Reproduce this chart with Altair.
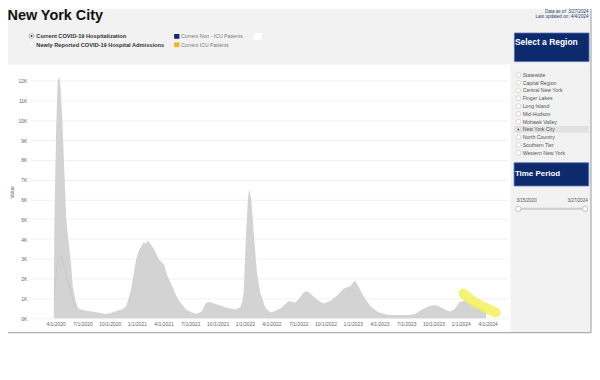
import altair as alt
import pandas as pd

# ---------------- data ----------------
dates = ["2020-03-26","2020-03-28","2020-04-03","2020-04-08","2020-04-14","2020-04-18","2020-04-23",
 "2020-05-07","2020-05-18","2020-05-24","2020-05-29","2020-06-07","2020-06-16","2020-07-01","2020-07-20",
 "2020-08-16","2020-09-19","2020-10-10","2020-10-27","2020-11-13","2020-11-26","2020-12-06","2020-12-12",
 "2020-12-29","2021-01-09","2021-01-20","2021-01-24","2021-01-31","2021-02-04","2021-02-09","2021-02-18",
 "2021-02-28","2021-03-17","2021-04-03","2021-04-14","2021-05-01","2021-05-12","2021-05-23","2021-06-15",
 "2021-07-06","2021-07-23","2021-08-09","2021-08-21","2021-09-01","2021-09-18","2021-10-15","2021-11-08",
 "2021-11-30","2021-12-17","2021-12-24","2021-12-28","2022-01-05","2022-01-12","2022-01-16","2022-01-23",
 "2022-01-31","2022-02-11","2022-02-22","2022-03-11","2022-03-28","2022-04-14","2022-05-06","2022-05-29",
 "2022-06-20","2022-07-01","2022-07-18","2022-07-29","2022-08-10","2022-09-01","2022-09-24","2022-10-16",
 "2022-11-08","2022-11-30","2022-12-23","2023-01-08","2023-01-20","2023-02-06","2023-03-01","2023-03-27",
 "2023-04-30","2023-06-02","2023-07-06","2023-07-29","2023-08-20","2023-09-18","2023-10-05","2023-10-16",
 "2023-11-02","2023-11-24","2023-12-11","2023-12-28","2024-01-14","2024-02-11","2024-03-09","2024-03-27"]
total = [1450,5100,9700,12000,12200,11600,10250,
 5000,3400,2600,1600,900,500,420,370,
 300,220,290,380,450,620,1120,1460,
 2960,3470,3720,3850,3750,3880,3900,3700,
 3470,2960,2710,2130,1600,1200,900,450,
 290,220,370,750,830,750,620,500,
 450,550,900,1300,4300,6150,6520,5980,
 4300,2300,1290,540,290,370,540,870,
 790,950,1290,1370,1260,950,750,870,
 1120,1490,1620,1910,1620,1120,620,320,
 170,170,170,200,420,620,670,620,
 490,340,450,820,900,700,500,350]

icu_dates = ["2020-03-28","2020-04-03","2020-04-08","2020-04-14","2020-04-19","2020-04-23",
 "2020-05-07","2020-05-18","2020-05-29","2020-06-03","2020-06-10"]
icu_values = [1200,2300,2900,3100,3130,3000,2200,1570,950,620,450]

highlight_dates = ["2024-01-10","2024-01-20","2024-02-16","2024-03-21","2024-04-29"]
highlight_values = [1250,1120,820,540,290]

x_tick_dates = [(2020,4),(2020,7),(2020,10),(2021,1),(2021,4),(2021,7),(2021,10),
 (2022,1),(2022,4),(2022,7),(2022,10),(2023,1),(2023,4),(2023,7),(2023,10),(2024,1),(2024,4)]
y_ticks = [0,1000,2000,3000,4000,5000,6000,7000,8000,9000,10000,11000,12000]

regions = ["Statewide","Capital Region","Central New York","Finger Lakes","Long Island",
 "Mid-Hudson","Mohawk Valley","New York City","North Country","Southern Tier","Western New York"]
selected_region = "New York City"
title_text = "New York City"
options = ["Current COVID-19 Hospitalization", "Newly Reported COVID-19 Hospital Admissions"]
legend_items = [("Current Non - ICU Patients", "#17286b"), ("Current ICU Patients", "#f0b323")]
data_as_of = "Data as of: 3/27/2024"
last_updated = "Last updated on: 4/4/2024"
period_start, period_end = "3/15/2020", "3/27/2024"

# ---------------- layout helpers ----------------
FONT = "Liberation Sans"
PL, PT = 22, 57
one = pd.DataFrame({"k": [0]})

def X(p):
    return p - 8 - PL

def Y(p):
    return p - 8 - PT

def rect(x1, y1, x2, y2, fill, stroke=None, sw=0.0):
    kw = dict(fill=fill, opacity=1)
    if stroke:
        kw.update(stroke=stroke, strokeWidth=sw)
    return alt.Chart(one).mark_rect(**kw).encode(
        x=alt.value(X(x1)), x2=alt.value(X(x2)), y=alt.value(Y(y1)), y2=alt.value(Y(y2)))

def txt(x, y, s, size, color, weight="normal", align="left", baseline="middle"):
    return alt.Chart(one).mark_text(text=s, fontSize=size, color=color, font=FONT,
                                    fontWeight=weight, align=align, baseline=baseline).encode(
        x=alt.value(X(x)), y=alt.value(Y(y)))

def dot(x, y, d, fill, stroke=None, sw=0.7):
    kw = dict(shape="circle", size=d * d, filled=True, fill=fill, opacity=1)
    if stroke:
        kw.update(stroke=stroke, strokeWidth=sw)
    else:
        kw.update(strokeWidth=0)
    return alt.Chart(one).mark_point(**kw).encode(x=alt.value(X(x)), y=alt.value(Y(y)))

def rule(x1, y1, x2, y2, color, w):
    return alt.Chart(one).mark_rule(color=color, strokeWidth=w).encode(
        x=alt.value(X(x1)), x2=alt.value(X(x2)), y=alt.value(Y(y1)), y2=alt.value(Y(y2)))

# ---------------- main chart ----------------
df = pd.DataFrame({"date": dates, "value": total})
df_icu = pd.DataFrame({"date": icu_dates, "value": icu_values})
df_hl = pd.DataFrame({"date": highlight_dates, "value": highlight_values})

xscale = alt.Scale(type="utc", domain=[alt.DateTime(year=2020, month=1, date=5, utc=True),
                                       alt.DateTime(year=2024, month=6, date=7, utc=True)])
yscale = alt.Scale(domain=[0, 12760], nice=False, zero=True)
xaxis = alt.Axis(values=[alt.DateTime(year=y, month=m, date=1, utc=True) for y, m in x_tick_dates],
                 format="%-m/%-d/%Y", grid=False, domain=False, ticks=False,
                 labelFontSize=5, labelColor="#666666", labelFont=FONT, labelPadding=3,
                 labelOverlap=False, labelFlush=False, title=None)
yaxis = alt.Axis(values=y_ticks, labelExpr="format(datum.value/1000,'d') + 'K'",
                 grid=True, gridColor="#ededed", gridWidth=0.8, domain=False, ticks=False,
                 labelFontSize=5, labelColor="#666666", labelFont=FONT, labelPadding=3,
                 title="Value", titleFontSize=5, titleFontWeight="normal", titleColor="#666666",
                 titleFont=FONT, titlePadding=4)

area = alt.Chart(df).mark_area(color="#d3d3d3", opacity=1, interpolate="linear").encode(
    x=alt.X("date:T", scale=xscale, axis=xaxis),
    y=alt.Y("value:Q", scale=yscale, axis=yaxis))
icu = alt.Chart(df_icu).mark_line(color="#c6c6c6", strokeWidth=0.7).encode(
    x=alt.X("date:T", scale=xscale, axis=xaxis), y=alt.Y("value:Q", scale=yscale, axis=yaxis))
hl = alt.Chart(df_hl).mark_line(color="#f3ef55", opacity=0.8, strokeWidth=10, strokeCap="round",
                                interpolate="monotone").encode(
    x=alt.X("date:T", scale=xscale, axis=xaxis), y=alt.Y("value:Q", scale=yscale, axis=yaxis))

layers = []
# backgrounds
layers.append(rect(8, 8, 594, 64, "#f2f2f2"))
layers.append(rect(513, 64, 594, 333, "#f2f2f2"))
layers += [area, icu, hl]

# frame
layers.append(rule(594, 8, 594, 333.5, "#9a9a9a", 1))
layers.append(rule(8, 333.5, 594, 333.5, "#9a9a9a", 1))

# header
layers.append(txt(7.5, 19.6, title_text, 14.5, "#111111", weight="bold", baseline="alphabetic"))
layers.append(dot(31.7, 35.2, 5, "white", "#999999"))
layers.append(dot(31.7, 35.2, 2, "#333333"))
layers.append(dot(31.7, 43.8, 5, "white", "#e2e2e2"))
for i, o in enumerate(options):
    layers.append(txt(36.5, 35.4 + i * 8.6, o, 5.7, "#333333", weight="bold"))
for i, (lab, col) in enumerate(legend_items):
    y0 = 33.3 + i * 8.4
    layers.append(rect(175, y0, 180.3, y0 + 4.8, col))
    layers.append(txt(182, y0 + 2.5, lab, 5.2, "#7a7a7a"))
layers.append(rect(255, 32.3, 263, 39, "white"))
layers.append(txt(591.5, 11.0, data_as_of, 4.6, "#2a3d6e", align="right"))
layers.append(txt(591.5, 16.6, last_updated, 4.6, "#2a3d6e", align="right"))

# right panel
layers.append(rect(517, 32.3, 592, 61, "#0d2a6c", "#5470b8", 0.8))
layers.append(txt(517.5, 41.5, "Select a Region", 8.5, "white", weight="bold"))
for i, r in enumerate(regions):
    yy = 74.3 + i * 7.84
    if r == selected_region:
        layers.append(rect(516.7, yy - 3.4, 591.7, yy + 3.4, "#e2e2e2"))
    layers.append(dot(521, yy, 4.8, "white", "#c8c8c8"))
    if r == selected_region:
        layers.append(dot(521, yy, 2, "#333333"))
    layers.append(txt(525.3, yy, r, 5.2, "#555555"))
layers.append(rect(516.7, 162.7, 591.7, 186, "#0d2a6c", "#5470b8", 0.8))
layers.append(txt(517.5, 174.3, "Time Period", 8, "white", weight="bold"))
layers.append(txt(519, 200.7, period_start, 4.6, "#555555"))
layers.append(txt(590.7, 200.7, period_end, 4.6, "#555555", align="right"))
layers.append(rule(521, 209, 588, 209, "#cccccc", 2))
layers.append(dot(521, 209, 5.4, "white", "#aaaaaa"))
layers.append(dot(588, 209, 5.4, "white", "#aaaaaa"))

chart = alt.layer(*layers).properties(
    width=480, height=254,
    autosize=alt.AutoSizeParams(type="none"),
    padding={"left": PL, "top": PT, "right": 85, "bottom": 20},
    background="white",
).configure_view(stroke=None)

chart.save("out.html", embed_options={"renderer": "svg", "actions": False})
